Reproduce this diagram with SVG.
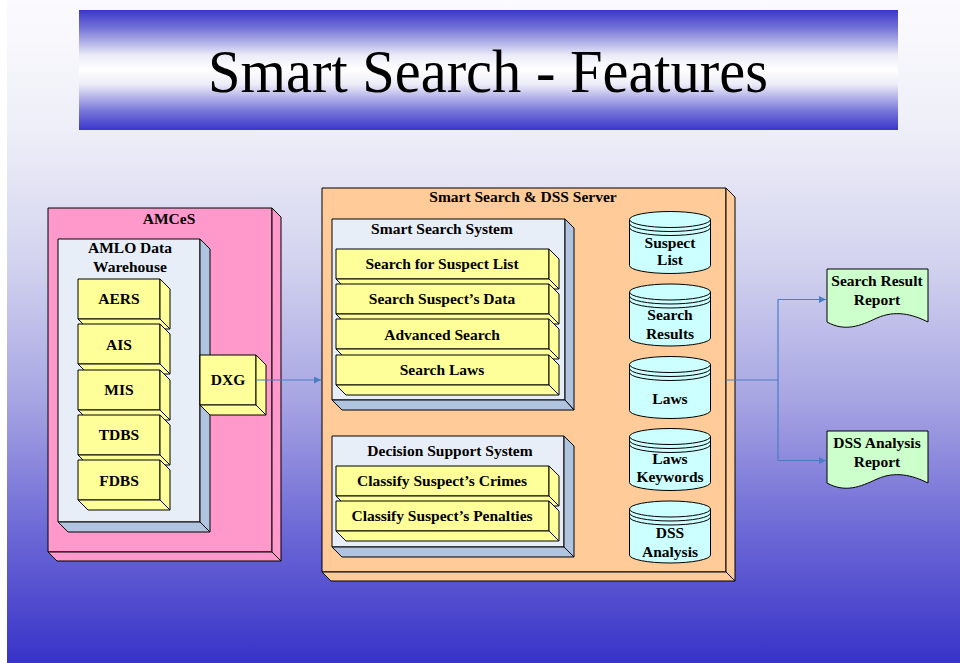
<svg xmlns="http://www.w3.org/2000/svg" width="960" height="663" viewBox="0 0 960 663">
<defs>
<linearGradient id="bg" x1="0" y1="0" x2="0" y2="1">
<stop offset="0" stop-color="#fbfbfe"/>
<stop offset="0.2" stop-color="#eeeef8"/>
<stop offset="0.4" stop-color="#d2d2ef"/>
<stop offset="0.6" stop-color="#a8a6e3"/>
<stop offset="0.8" stop-color="#6d69d6"/>
<stop offset="1" stop-color="#3833c8"/>
</linearGradient>
<linearGradient id="ban" x1="0" y1="0" x2="0" y2="1">
<stop offset="0" stop-color="#3a36cc"/>
<stop offset="0.15" stop-color="#7472d8"/>
<stop offset="0.38" stop-color="#ececf8"/>
<stop offset="0.5" stop-color="#ffffff"/>
<stop offset="0.62" stop-color="#ececf8"/>
<stop offset="0.85" stop-color="#7472d8"/>
<stop offset="1" stop-color="#3a36cc"/>
</linearGradient>
<marker id="arr" viewBox="0 0 10 10" refX="10" refY="5" markerWidth="7" markerHeight="7" markerUnits="userSpaceOnUse" orient="auto">
<path d="M0,0 L10,5 L0,10 Z" fill="#4a7ec4"/>
</marker>
</defs>
<style>
.t{font-family:"Liberation Serif","Times New Roman",serif;font-weight:bold;font-size:15.5px;fill:#000;text-anchor:middle}
.ln{stroke:#000;stroke-width:1;stroke-linejoin:round}
.pink{fill:#ff99cc}
.org{fill:#ffcc99}
.yel{fill:#ffff99}
.blf{fill:#e8eef8}
.bls{fill:#b0c4e0}
.cyl{fill:#ccffff}
.doc{fill:#ccffcc}
.con{fill:none;stroke:#4a7ec4;stroke-width:1.2}
</style>
<rect x="7" y="0" width="953" height="663" fill="url(#bg)"/>
<g id="title">
<rect x="79" y="10" width="819" height="120" fill="url(#ban)"/>
<text x="488" y="92" font-family="Liberation Serif,Times New Roman,serif" font-size="61" text-anchor="middle" textLength="560" lengthAdjust="spacingAndGlyphs">Smart Search - Features</text>
</g>

<g id="amces">
<rect class="ln pink" x="48" y="208" width="224" height="344"/>
<polygon class="ln pink" points="272,208 281,217 281,561 272,552"/>
<polygon class="ln pink" points="48,552 272,552 281,561 57,561"/>
<text class="t" x="169" y="224">AMCeS</text>
</g>

<g id="amlo">
<rect class="ln blf" x="58" y="239" width="142" height="283"/>
<polygon class="ln bls" points="200,239 210,249 210,532 200,522"/>
<polygon class="ln bls" points="58,522 200,522 210,532 68,532"/>
<text class="t" x="130" y="253">AMLO Data</text>
<text class="t" x="130" y="272">Warehouse</text>
</g>

<g id="aers">
<rect class="ln yel" x="78" y="279" width="82" height="40"/>
<polygon class="ln yel" points="160,279 170,289 170,329 160,319"/>
<polygon class="ln yel" points="78,319 160,319 170,329 88,329"/>
<text class="t" x="119" y="304">AERS</text>
</g>
<g id="ais">
<rect class="ln yel" x="78" y="324" width="82" height="40"/>
<polygon class="ln yel" points="160,324 170,334 170,374 160,364"/>
<polygon class="ln yel" points="78,364 160,364 170,374 88,374"/>
<text class="t" x="119" y="350">AIS</text>
</g>
<g id="mis">
<rect class="ln yel" x="78" y="370" width="82" height="40"/>
<polygon class="ln yel" points="160,370 170,380 170,420 160,410"/>
<polygon class="ln yel" points="78,410 160,410 170,420 88,420"/>
<text class="t" x="119" y="395">MIS</text>
</g>
<g id="tdbs">
<rect class="ln yel" x="78" y="415" width="82" height="40"/>
<polygon class="ln yel" points="160,415 170,425 170,465 160,455"/>
<polygon class="ln yel" points="78,455 160,455 170,465 88,465"/>
<text class="t" x="119" y="440">TDBS</text>
</g>
<g id="fdbs">
<rect class="ln yel" x="78" y="460" width="82" height="40"/>
<polygon class="ln yel" points="160,460 170,470 170,510 160,500"/>
<polygon class="ln yel" points="78,500 160,500 170,510 88,510"/>
<text class="t" x="119" y="486">FDBS</text>
</g>

<g id="dxg">
<rect class="ln yel" x="200" y="355" width="56" height="50"/>
<polygon class="ln yel" points="256,355 266,365 266,415 256,405"/>
<polygon class="ln yel" points="200,405 256,405 266,415 210,415"/>
<text class="t" x="228" y="385">DXG</text>
</g>

<g id="server">
<rect class="ln org" x="322" y="188" width="404" height="384"/>
<polygon class="ln org" points="726,188 735,197 735,581 726,572"/>
<polygon class="ln org" points="322,572 726,572 735,581 331,581"/>
<text class="t" x="523" y="202">Smart Search &amp; DSS Server</text>
</g>

<g id="sss">
<rect class="ln blf" x="332" y="219" width="233" height="181"/>
<polygon class="ln bls" points="565,219 574,228 574,410 565,400"/>
<polygon class="ln bls" points="332,400 565,400 574,410 342,410"/>
<text class="t" x="442" y="234">Smart Search System</text>
</g>
<g id="s1">
<rect class="ln yel" x="336" y="249" width="213" height="30"/>
<polygon class="ln yel" points="549,249 559,259 559,289 549,279"/>
<polygon class="ln yel" points="336,279 549,279 559,289 346,289"/>
<text class="t" x="442" y="269">Search for Suspect List</text>
</g>
<g id="s2">
<rect class="ln yel" x="336" y="284" width="213" height="30"/>
<polygon class="ln yel" points="549,284 559,294 559,324 549,314"/>
<polygon class="ln yel" points="336,314 549,314 559,324 346,324"/>
<text class="t" x="442" y="304">Search Suspect’s Data</text>
</g>
<g id="s3">
<rect class="ln yel" x="336" y="319" width="213" height="30"/>
<polygon class="ln yel" points="549,319 559,329 559,359 549,349"/>
<polygon class="ln yel" points="336,349 549,349 559,359 346,359"/>
<text class="t" x="442" y="340">Advanced Search</text>
</g>
<g id="s4">
<rect class="ln yel" x="336" y="355" width="213" height="30"/>
<polygon class="ln yel" points="549,355 559,365 559,395 549,385"/>
<polygon class="ln yel" points="336,385 549,385 559,395 346,395"/>
<text class="t" x="442" y="375">Search Laws</text>
</g>

<g id="dss">
<rect class="ln blf" x="332" y="436" width="232" height="111"/>
<polygon class="ln bls" points="564,436 574,446 574,557 564,547"/>
<polygon class="ln bls" points="332,547 564,547 574,557 342,557"/>
<text class="t" x="450" y="456">Decision Support System</text>
</g>
<g id="d1">
<rect class="ln yel" x="336" y="466" width="213" height="30"/>
<polygon class="ln yel" points="549,466 559,476 559,506 549,496"/>
<polygon class="ln yel" points="336,496 549,496 559,506 346,506"/>
<text class="t" x="442" y="486">Classify Suspect’s Crimes</text>
</g>
<g id="d2">
<rect class="ln yel" x="336" y="501" width="213" height="30"/>
<polygon class="ln yel" points="549,501 559,511 559,541 549,531"/>
<polygon class="ln yel" points="336,531 549,531 559,541 346,541"/>
<text class="t" x="442" y="521">Classify Suspect’s Penalties</text>
</g>

<g id="db1">
<path class="ln cyl" d="M629.5,219.5 V265.5 A40.5,8 0 0 0 710.5,265.5 V219.5 Z"/>
<ellipse class="ln cyl" cx="670" cy="219.5" rx="40.5" ry="8"/>
<path class="ln" fill="none" d="M629.5,223.5 A40.5,8 0 0 0 710.5,223.5 M629.5,227.5 A40.5,8 0 0 0 710.5,227.5"/>
<text class="t" x="670" y="248">Suspect</text>
<text class="t" x="670" y="265">List</text>
</g>
<g id="db2">
<path class="ln cyl" d="M629.5,292 V338 A40.5,8 0 0 0 710.5,338 V292 Z"/>
<ellipse class="ln cyl" cx="670" cy="292" rx="40.5" ry="8"/>
<path class="ln" fill="none" d="M629.5,296 A40.5,8 0 0 0 710.5,296 M629.5,300 A40.5,8 0 0 0 710.5,300"/>
<text class="t" x="670" y="320">Search</text>
<text class="t" x="670" y="339">Results</text>
</g>
<g id="db3">
<path class="ln cyl" d="M629.5,364.5 V410.5 A40.5,8 0 0 0 710.5,410.5 V364.5 Z"/>
<ellipse class="ln cyl" cx="670" cy="364.5" rx="40.5" ry="8"/>
<path class="ln" fill="none" d="M629.5,368.5 A40.5,8 0 0 0 710.5,368.5 M629.5,372.5 A40.5,8 0 0 0 710.5,372.5"/>
<text class="t" x="670" y="404">Laws</text>
</g>
<g id="db4">
<path class="ln cyl" d="M629.5,436.5 V482.5 A40.5,8 0 0 0 710.5,482.5 V436.5 Z"/>
<ellipse class="ln cyl" cx="670" cy="436.5" rx="40.5" ry="8"/>
<path class="ln" fill="none" d="M629.5,440.5 A40.5,8 0 0 0 710.5,440.5 M629.5,444.5 A40.5,8 0 0 0 710.5,444.5"/>
<text class="t" x="670" y="464">Laws</text>
<text class="t" x="670" y="482">Keywords</text>
</g>
<g id="db5">
<path class="ln cyl" d="M629.5,509 V555 A40.5,8 0 0 0 710.5,555 V509 Z"/>
<ellipse class="ln cyl" cx="670" cy="509" rx="40.5" ry="8"/>
<path class="ln" fill="none" d="M629.5,513 A40.5,8 0 0 0 710.5,513 M629.5,517 A40.5,8 0 0 0 710.5,517"/>
<text class="t" x="670" y="538">DSS</text>
<text class="t" x="670" y="557">Analysis</text>
</g>

<g id="rep1">
<path class="ln doc" d="M827,269 H928 V322 C912,314 895,310 877,318 C860,326 845,332 827,322 Z"/>
<text class="t" x="877" y="286">Search Result</text>
<text class="t" x="877" y="305">Report</text>
</g>
<g id="rep2">
<path class="ln doc" d="M827,431 H928 V483 C912,475 895,471 877,479 C860,487 845,493 827,483 Z"/>
<text class="t" x="877" y="448">DSS Analysis</text>
<text class="t" x="877" y="467">Report</text>
</g>

<g id="connectors">
<path class="con" d="M256,380 H321" marker-end="url(#arr)"/>
<path class="con" d="M726,380 H778"/>
<path class="con" d="M778,299.5 V460.5"/>
<path class="con" d="M778,299.5 H826" marker-end="url(#arr)"/>
<path class="con" d="M778,460.5 H826" marker-end="url(#arr)"/>
</g>
</svg>
